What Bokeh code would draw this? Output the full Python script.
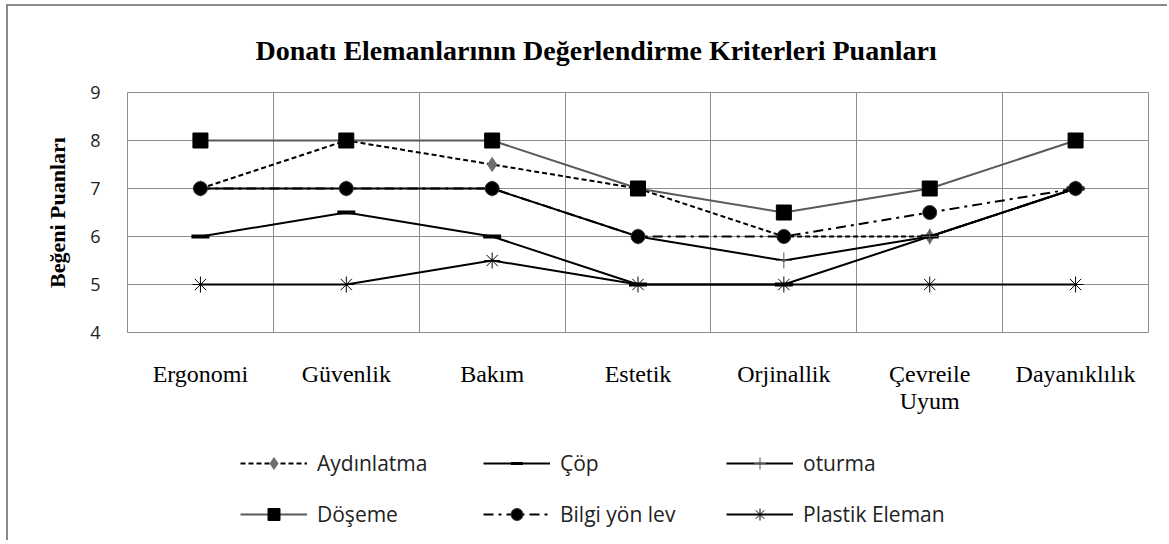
from bokeh.plotting import figure
from bokeh.layouts import column
from bokeh.models import Legend, LegendItem, FixedTicker, Range1d
from bokeh.embed import file_html
from bokeh.resources import INLINE

categories = ["Ergonomi", "Güvenlik", "Bakım", "Estetik", "Orjinallik", "Çevreile\nUyum", "Dayanıklılık"]
aydinlatma = [7, 8, 7.5, 7, 6, 6, 7]
cop = [6, 6.5, 6, 5, 5, 6, 7]
oturma = [7, 7, 7, 6, 5.5, 6, 7]
doseme = [8, 8, 8, 7, 6.5, 7, 8]
bilgi = [7, 7, 7, 6, 6, 6.5, 7]
plastik = [5, 5, 5.5, 5, 5, 5, 5]
series_names = ["Aydınlatma", "Çöp", "oturma", "Döşeme", "Bilgi yön lev", "Plastik Eleman"]
y_ticks = [4, 5, 6, 7, 8, 9]

n = len(categories)
xs = [i + 0.5 for i in range(n)]

# series styles: (data, line color, dash, marker, marker size, marker fill, marker line, marker line width)
styles = [
    (aydinlatma, "#000000", "5 3", "diamond", 14, "#6e6e6e", "#6e6e6e", 1),
    (cop, "#000000", "solid", "dash", 18, "#000000", "#000000", 4),
    (oturma, "#000000", "solid", "cross", 16, "#555555", "#555555", 1),
    (doseme, "#5a5a5a", "solid", "square", 15, "#000000", "#000000", 1),
    (bilgi, "#000000", "10 5 3 5", "circle", 14, "#000000", "#333333", 1),
    (plastik, "#000000", "solid", "asterisk", 16, "#000000", "#000000", 1),
]

p = figure(frame_width=1021, frame_height=240, x_range=Range1d(0, n), y_range=Range1d(4, 9),
           output_backend="svg", toolbar_location=None,
           min_border_left=119, min_border_right=19, min_border_top=86, min_border_bottom=98)

p.title.text = "Donatı Elemanlarının Değerlendirme Kriterleri Puanları"
p.title.align = "left"
p.title.offset = 128
p.title.text_font = "Liberation Serif"
p.title.text_font_style = "bold"
p.title.text_font_size = "28px"
p.title.text_color = "#000000"
p.title.standoff = 53

p.outline_line_color = "#8c8c8c"
p.outline_line_width = 1

p.xgrid.ticker = FixedTicker(ticks=list(range(0, n + 1)))
p.ygrid.ticker = FixedTicker(ticks=y_ticks)
for g in (p.xgrid, p.ygrid):
    g.grid_line_color = "#8c8c8c"
    g.grid_line_width = 1

p.xaxis.ticker = FixedTicker(ticks=xs)
p.xaxis.major_label_overrides = {x: c for x, c in zip(xs, categories)}
p.xaxis.major_label_text_font = "Liberation Serif"
p.xaxis.major_label_text_font_size = "24px"
p.xaxis.major_label_text_color = "#000000"
p.xaxis.major_label_text_line_height = 1.05
p.xaxis.major_label_standoff = 22
p.xaxis.axis_line_color = None
p.xaxis.major_tick_line_color = None
p.xaxis.minor_tick_line_color = None

p.yaxis.ticker = FixedTicker(ticks=y_ticks)
p.yaxis.major_label_text_font = "Open Sans"
p.yaxis.major_label_text_font_size = "18px"
p.yaxis.major_label_text_color = "#222222"
p.yaxis.major_label_standoff = 21
p.yaxis.axis_line_color = None
p.yaxis.major_tick_line_color = None
p.yaxis.minor_tick_line_color = None
p.yaxis.axis_label = "Beğeni Puanları"
p.yaxis.axis_label_text_font = "Liberation Serif"
p.yaxis.axis_label_text_font_style = "bold"
p.yaxis.axis_label_text_font_size = "22px"
p.yaxis.axis_label_text_color = "#000000"
p.yaxis.axis_label_standoff = 17

for data, lc, dash, mk, ms, mf, ml, mlw in styles:
    p.line(xs, data, line_color=lc, line_width=2, line_dash=dash)
    p.scatter(xs, data, marker=mk, size=ms, fill_color=mf, line_color=ml, line_width=mlw)

# legend strip below the chart (its own canvas so that nothing is clipped);
# its renderers hold the same series but its y range keeps them out of view
lg = figure(width=1159, height=110, x_range=Range1d(0, n), y_range=Range1d(0, 1),
            x_axis_type=None, y_axis_type=None, output_backend="svg", toolbar_location=None,
            min_border_left=0, min_border_right=0, min_border_top=0, min_border_bottom=0)
lg.outline_line_color = None
lg.grid.visible = False

items = []
for i, (data, lc, dash, mk, ms, mf, ml, mlw) in enumerate(styles):
    r_line = lg.line(xs, data, line_color=lc, line_width=2, line_dash=dash)
    r_mark = lg.scatter(xs, data, marker=mk, size=ms, fill_color=mf, line_color=ml,
                        line_width=min(mlw, 3))
    items.append(LegendItem(label=series_names[i], renderers=[r_line, r_mark]))

legend = Legend(items=items, location=(113, 11),
                orientation="horizontal", ncols=3,
                label_text_font="Open Sans", label_text_font_size="21px", label_text_color="#222222",
                glyph_width=67, glyph_height=30, label_height=30, label_width=145,
                label_standoff=10, spacing=21, padding=0, margin=0,
                background_fill_alpha=0, border_line_color=None)
lg.add_layout(legend, "center")

layout = column(p, lg, spacing=0)
layout.styles = {"border-left": "2px solid #8a8a8a", "border-top": "2px solid #8a8a8a",
                 "margin-left": "6px", "margin-top": "4px"}

open("out.html", "w").write(file_html(layout, INLINE))
